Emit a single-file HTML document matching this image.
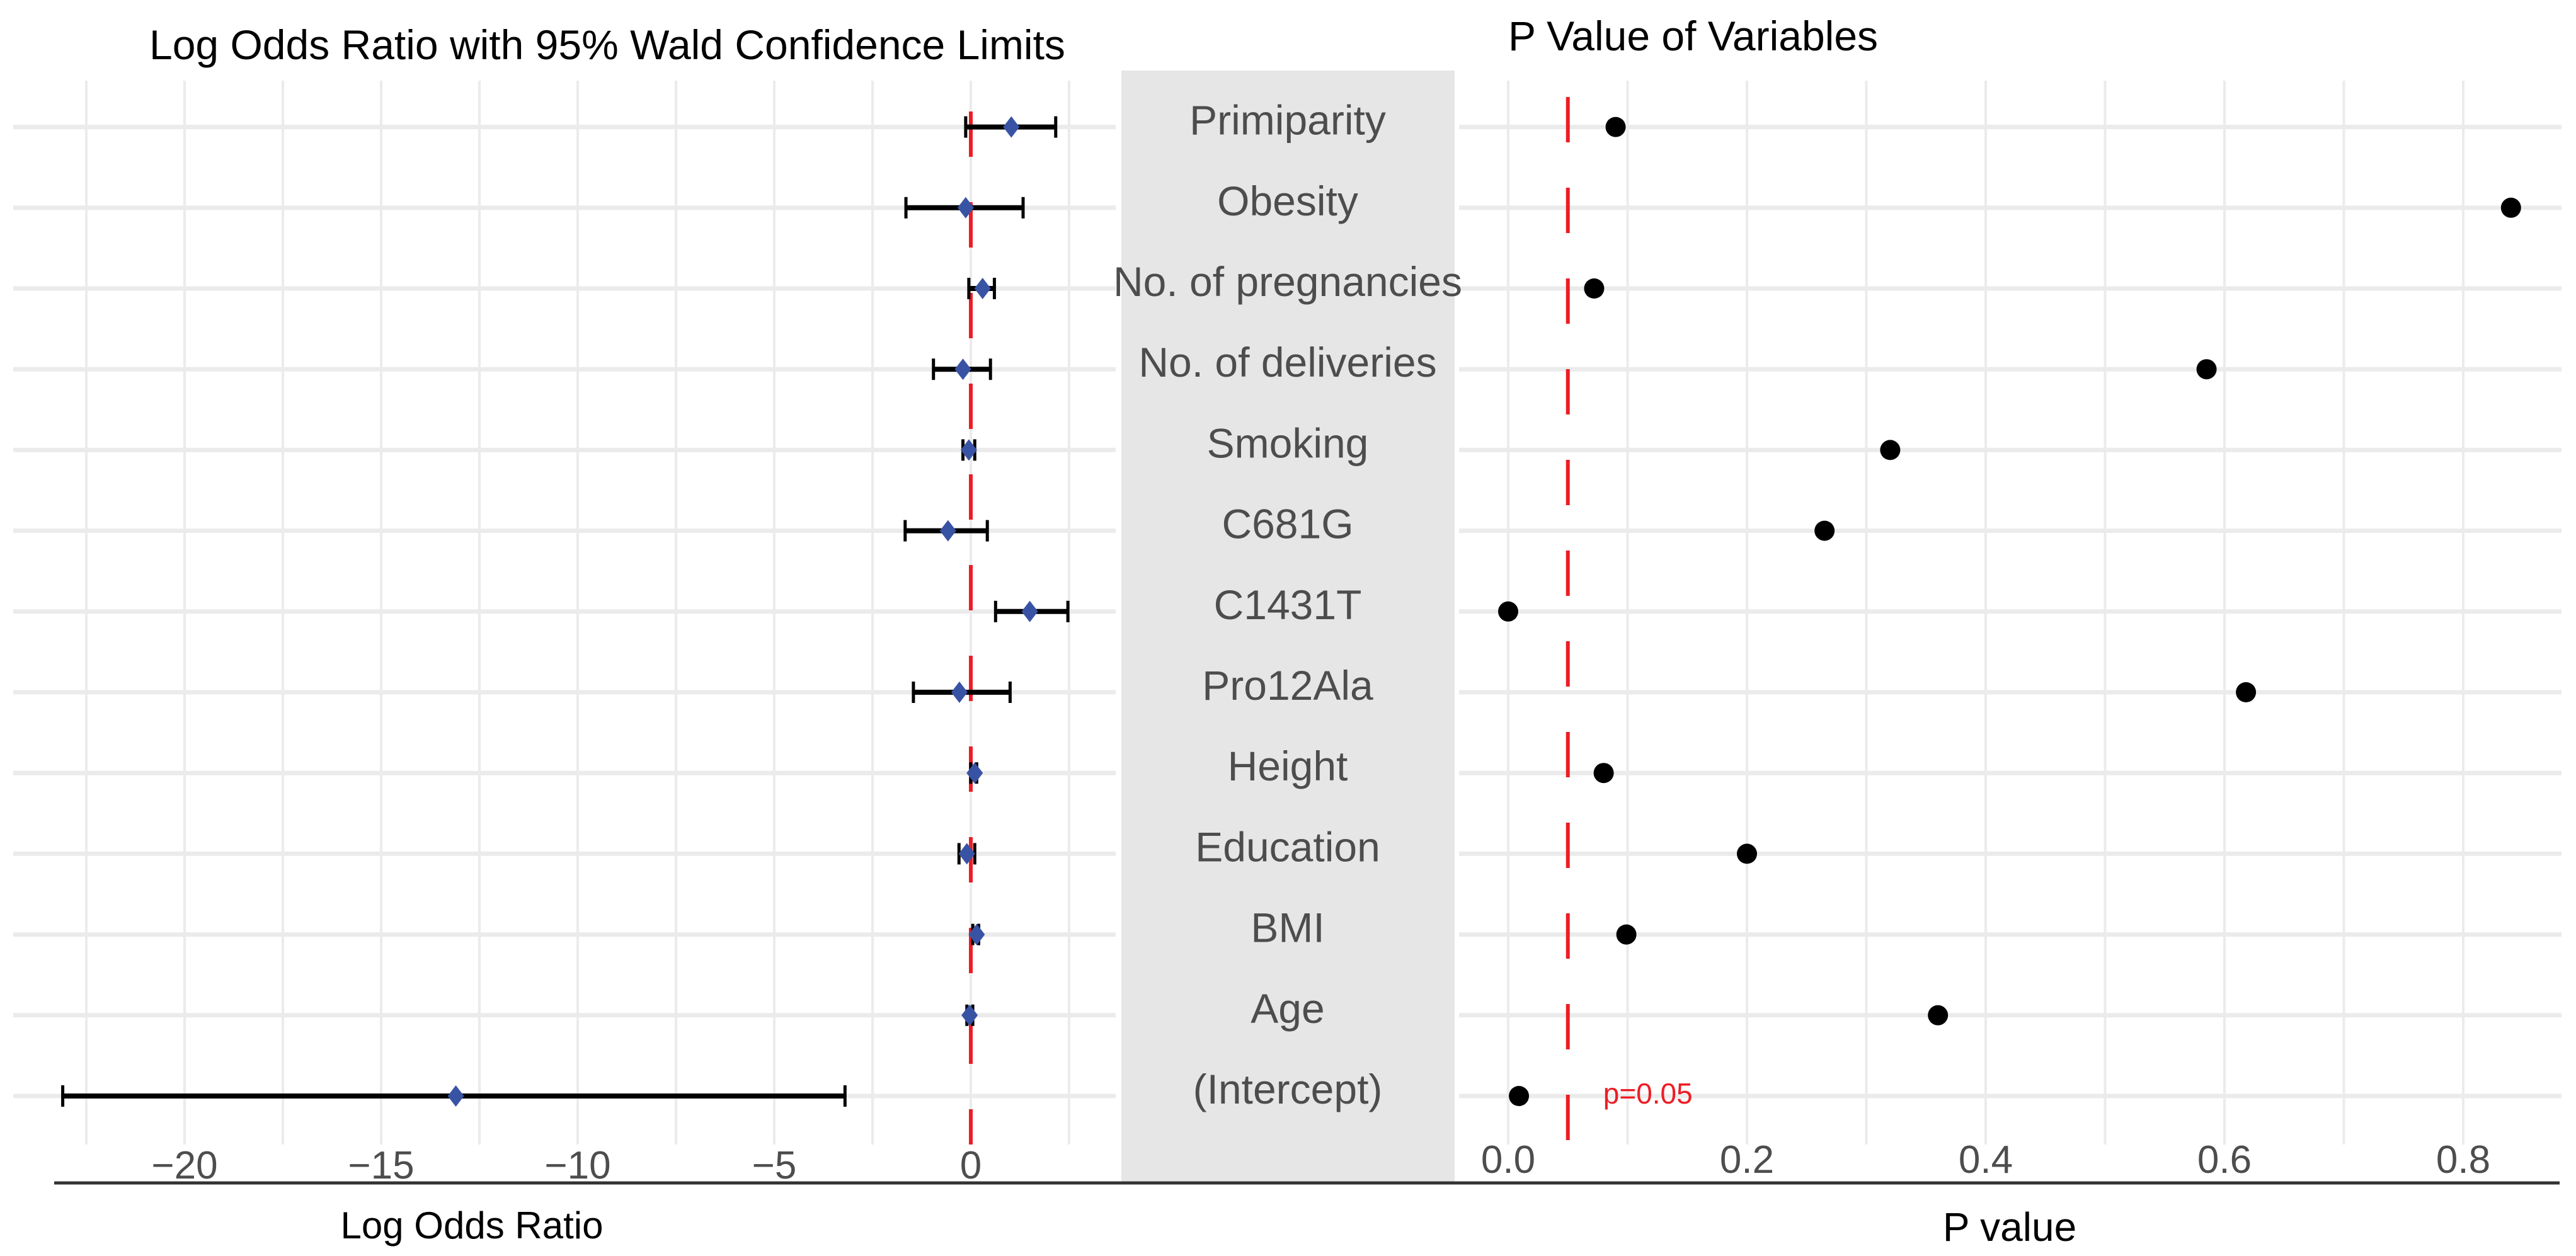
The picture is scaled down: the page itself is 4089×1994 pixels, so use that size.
<!DOCTYPE html>
<html><head><meta charset="utf-8"><style>
html,body{margin:0;padding:0;background:#fff;}
svg{display:block;font-family:"Liberation Sans",Arial,sans-serif;}
</style></head><body>
<svg id="chart" width="4089" height="1994" viewBox="0 0 4089 1994" xmlns="http://www.w3.org/2000/svg">
<rect x="0" y="0" width="4089" height="1994" fill="#fff"/>
<rect x="1780" y="112" width="529" height="1766" fill="#e6e6e6"/>
<g id="grid"></g>
<g id="labels"></g>
<g id="marks"></g>
<text x="237" y="94" font-size="66" fill="#000">Log Odds Ratio with 95% Wald Confidence Limits</text>
<text x="2394" y="80" font-size="66" fill="#000">P Value of Variables</text>
<line x1="86" y1="1878" x2="4063" y2="1878" stroke="#333" stroke-width="5"/>
<text x="749" y="1966" font-size="60" text-anchor="middle" fill="#000">Log Odds Ratio</text>
<text x="3190" y="1970" font-size="64" text-anchor="middle" fill="#000">P value</text>
</svg>
<script>
const variables = ["Primiparity","Obesity","No. of pregnancies","No. of deliveries","Smoking","C681G","C1431T","Pro12Ala","Height","Education","BMI","Age","(Intercept)"];
const logOdds = [1.03,-0.13,0.3,-0.2,-0.05,-0.58,1.5,-0.29,0.1,-0.1,0.15,-0.03,-13.1];
const ciLow = [-0.13,-1.65,-0.05,-0.95,-0.2,-1.67,0.63,-1.46,0.0,-0.3,0.05,-0.1,-23.1];
const ciHigh = [2.16,1.33,0.6,0.5,0.1,0.42,2.47,1.0,0.15,0.1,0.2,0.05,-3.2];
const pValues = [0.09,0.84,0.072,0.585,0.32,0.265,0.0,0.618,0.08,0.2,0.099,0.36,0.009];
const leftTicks = [-20,-15,-10,-5,0];
const leftTickLabels = ["\u221220","\u221215","\u221210","\u22125","0"];
const rightTicks = [0,0.2,0.4,0.6,0.8];
const rightTickLabels = ["0.0","0.2","0.4","0.6","0.8"];
const pThreshold = 0.05;

const NS="http://www.w3.org/2000/svg";
function xL(v){return 1541+v*62.4;}
function xR(v){return 2394+v*1895;}
function yRow(i){return 1740-(variables.length-1-i)*128.2;}
function mk(tag,attrs,parent){const e=document.createElementNS(NS,tag);for(const k in attrs)e.setAttribute(k,attrs[k]);parent.appendChild(e);return e;}
const grid=document.getElementById('grid'),labels=document.getElementById('labels'),marks=document.getElementById('marks');
const gTop=128,gBot=1817;
for(let v=-22.5;v<=2.5001;v+=2.5){
  const l=mk('line',{x1:xL(v),x2:xL(v),y1:gTop,y2:gBot,stroke:'#ebebeb','stroke-width':4},grid);
  
  
}
for(let v=0;v<=0.8001;v+=0.1){
  const l=mk('line',{x1:xR(v),x2:xR(v),y1:gTop,y2:gBot,stroke:'#ebebeb','stroke-width':4},grid);
  
  
}
variables.forEach((n,i)=>{
  const y=yRow(i);
  const a=mk('line',{x1:21,x2:1771,y1:y,y2:y,stroke:'#ebebeb','stroke-width':7},grid);
  
  
  const b=mk('line',{x1:2316,x2:4066,y1:y,y2:y,stroke:'#ebebeb','stroke-width':7},grid);
  
  
  const t=mk('text',{x:2044,y:y+12,'font-size':66,'text-anchor':'middle',fill:'#4d4d4d'},labels);
  t.textContent=n;
  
  
});
leftTicks.forEach((v,i)=>{
  const t=mk('text',{x:xL(v),y:1871,'font-size':62,'text-anchor':'middle',fill:'#4d4d4d'},labels);
  t.textContent=leftTickLabels[i];
  
  
});
rightTicks.forEach((v,i)=>{
  const t=mk('text',{x:xR(v),y:1862,'font-size':62,'text-anchor':'middle',fill:'#4d4d4d'},labels);
  t.textContent=rightTickLabels[i];
  
  
});
const r1=mk('line',{x1:xL(0),x2:xL(0),y1:gTop,y2:gBot,stroke:'#ee1c25','stroke-width':6,'stroke-dasharray':'72 72','stroke-dashoffset':95},marks);


const r2=mk('line',{x1:xR(pThreshold),x2:xR(pThreshold),y1:gTop,y2:gBot,stroke:'#ee1c25','stroke-width':6,'stroke-dasharray':'72 72','stroke-dashoffset':118},marks);


const pt=mk('text',{x:xR(pThreshold)+56,y:1752,'font-size':46,fill:'#ee1c25'},marks);
pt.textContent='p=0.05';


variables.forEach((n,i)=>{
  const y=yRow(i);
  const e=mk('line',{x1:xL(ciLow[i]),x2:xL(ciHigh[i]),y1:y,y2:y,stroke:'#000','stroke-width':8},marks);
  
  
  [ciLow[i],ciHigh[i]].forEach(v=>{
    const c=mk('line',{x1:xL(v),x2:xL(v),y1:y-17,y2:y+17,stroke:'#000','stroke-width':5},marks);
    
    
  });
  const cx=xL(logOdds[i]);
  const d=mk('polygon',{points:`${cx},${y-17} ${cx+13},${y} ${cx},${y+17} ${cx-13},${y}`,fill:'#3953a4'},marks);
  
  
  const p=mk('circle',{cx:xR(pValues[i]),cy:y,r:16,fill:'#000'},marks);
  
  
});
</script>
</body></html>
